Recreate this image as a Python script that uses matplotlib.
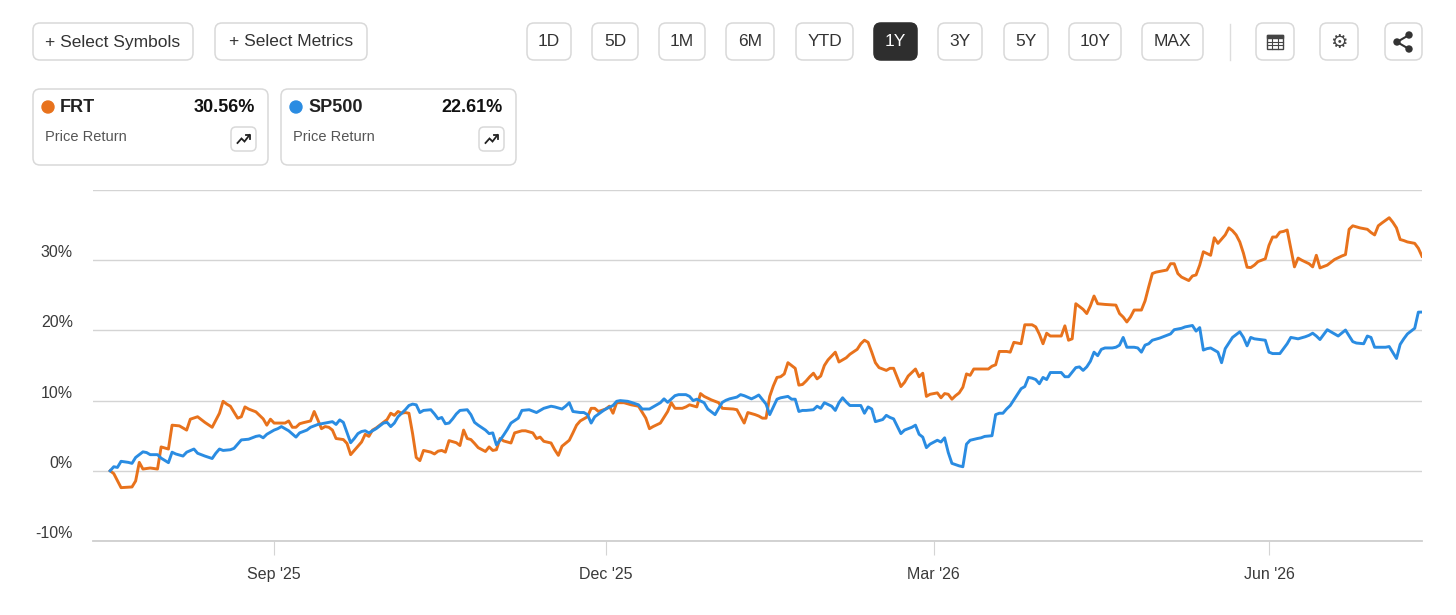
import numpy as np
import pandas as pd
import matplotlib
matplotlib.use("Agg")
import matplotlib.pyplot as plt
import matplotlib.dates as mdates
from matplotlib.patches import FancyBboxPatch, Circle, Rectangle

plt.rcParams['font.family'] = ['Liberation Sans', 'DejaVu Sans']

# price return in %, day = days after 2025-07-18
start = pd.Timestamp("2025-07-18")

frt_day = [0, 1, 3, 6, 7, 8, 9, 11, 13, 14, 16, 17, 19, 21, 22, 24, 26, 28, 30, 31,
           32, 33, 35, 36, 37, 38, 40, 42, 43, 44, 45, 48, 49, 50, 51, 52, 53, 55, 56, 57,
           58, 59, 60, 61, 62, 64, 65, 66, 67, 68, 69, 70, 71, 72, 73, 74, 75, 76, 77, 78,
           79, 80, 81, 82, 83, 84, 85, 86, 88, 89, 90, 91, 92, 93, 95, 96, 97, 98, 99, 100,
           101, 103, 104, 105, 106, 107, 108, 110, 111, 113, 114, 116, 117, 118, 119, 121, 122, 123, 124, 126,
           127, 128, 129, 131, 132, 133, 134, 136, 137, 138, 139, 141, 143, 145, 147, 148, 149, 151, 153, 154,
           155, 157, 158, 159, 161, 162, 163, 165, 167, 168, 171, 172, 174, 175, 177, 178, 179, 180, 181, 182,
           183, 184, 185, 186, 188, 189, 190, 191, 192, 193, 194, 195, 196, 197, 199, 200, 202, 203, 205, 206,
           207, 208, 209, 210, 211, 213, 214, 215, 217, 218, 219, 221, 222, 223, 224, 225, 227, 228, 229, 230,
           231, 232, 233, 234, 235, 236, 237, 238, 241, 242, 243, 244, 246, 247, 248, 250, 251, 253, 254, 255,
           256, 257, 258, 261, 262, 263, 264, 265, 267, 268, 269, 270, 271, 273, 276, 277, 278, 279, 280, 281,
           283, 284, 285, 286, 287, 288, 290, 291, 292, 293, 294, 296, 297, 298, 299, 300, 301, 302, 303, 304,
           306, 307, 308, 309, 310, 311, 312, 313, 314, 315, 317, 318, 319, 320, 321, 322, 323, 324, 325, 326,
           327, 329, 330, 331, 332, 334, 335, 336, 338, 339, 340, 341, 343, 345, 346, 347, 348, 349, 351, 352,
           353, 354, 355, 356, 358, 359, 360]
frt_ret = [0.0, -0.4, -2.4, -2.3, -1.45, 1.2, 0.25, 0.4, 0.25, 3.4, 3.1, 6.5, 6.4, 5.8, 7.35, 7.7, 6.9, 6.2, 8.2, 9.9,
           9.5, 9.2, 7.5, 7.7, 9.1, 8.8, 8.4, 7.4, 6.5, 7.35, 6.8, 6.8, 7.1, 6.2, 6.2, 6.7, 6.85, 7.1, 8.45, 7.25,
           6.0, 6.3, 6.2, 5.8, 4.6, 4.45, 3.9, 2.3, 2.9, 3.5, 4.1, 5.2, 4.9, 5.8, 6.1, 6.5, 6.9, 7.3, 8.2, 7.9,
           8.45, 8.2, 8.3, 8.2, 5.3, 1.9, 1.45, 2.9, 2.66, 2.4, 2.8, 2.9, 2.66, 4.3, 4.0, 3.6, 5.8, 4.6, 4.45, 3.9,
           3.3, 2.75, 3.4, 2.9, 3.0, 4.6, 4.25, 3.96, 5.4, 5.7, 5.7, 5.4, 4.6, 4.8, 4.2, 3.96, 3.0, 2.2, 3.5, 4.35,
           5.4, 6.5, 7.1, 7.7, 8.9, 8.9, 8.45, 8.8, 9.2, 8.2, 9.7, 9.7, 9.4, 9.2, 7.5, 6.0, 6.3, 6.8, 8.45, 9.7,
           8.9, 8.9, 9.1, 9.4, 9.1, 11.0, 10.6, 10.1, 9.7, 8.9, 8.8, 8.7, 6.8, 8.3, 8.0, 7.8, 7.5, 7.5, 10.6, 12.1,
           13.3, 13.4, 13.8, 15.4, 14.6, 12.2, 12.3, 12.8, 13.4, 13.9, 13.1, 13.5, 15.0, 15.8, 16.9, 15.5, 16.1, 16.6, 17.3, 18.1,
           18.6, 18.3, 16.9, 15.4, 14.7, 14.3, 14.6, 14.6, 12.0, 12.6, 13.5, 14.5, 13.4, 13.9, 10.6, 10.9, 11.1, 10.4, 11.0, 10.9,
           10.2, 10.7, 11.1, 11.9, 13.8, 13.6, 14.5, 14.5, 14.5, 14.9, 15.1, 17.0, 17.0, 16.9, 18.3, 18.1, 20.8, 20.8, 20.5, 19.45,
           18.1, 19.6, 19.2, 19.2, 20.65, 18.6, 18.8, 23.8, 23.0, 22.4, 23.5, 24.9, 23.8, 23.7, 23.6, 22.4, 21.9, 21.2, 21.9, 22.9,
           22.9, 24.2, 26.2, 28.1, 28.3, 28.4, 28.6, 29.5, 29.5, 28.1, 27.6, 27.1, 27.75, 27.9, 29.3, 31.2, 30.95, 30.7, 33.2, 32.4,
           33.6, 34.6, 34.2, 33.6, 32.6, 31.0, 29.0, 28.95, 29.3, 29.8, 30.2, 32.1, 33.3, 33.3, 34.0, 34.1, 34.3, 31.7, 29.05, 30.3,
           30.0, 29.5, 29.05, 30.7, 28.9, 29.3, 29.7, 30.1, 30.6, 30.8, 34.4, 34.9, 34.6, 34.4, 33.95, 33.6, 34.9, 35.3, 36.05, 35.4,
           34.6, 32.95, 32.8, 32.6, 32.4, 31.7, 30.56]

sp_day = [0, 1, 2, 3, 5, 6, 7, 9, 10, 11, 13, 14, 16, 17, 18, 20, 21, 23, 24, 26,
          28, 29, 30, 31, 33, 34, 35, 36, 38, 40, 41, 42, 43, 45, 46, 47, 49, 51, 52, 53,
          54, 55, 57, 58, 60, 61, 62, 63, 64, 66, 67, 68, 69, 70, 71, 72, 73, 74, 75, 76,
          77, 78, 79, 81, 82, 83, 84, 85, 86, 88, 89, 90, 91, 92, 93, 94, 95, 96, 98, 99,
          100, 101, 103, 104, 105, 106, 107, 108, 109, 110, 112, 113, 115, 117, 118, 119, 121, 122, 124, 125,
          126, 127, 129, 130, 131, 132, 133, 135, 136, 138, 139, 140, 142, 143, 145, 146, 148, 149, 151, 152,
          153, 155, 156, 158, 159, 160, 161, 163, 164, 166, 167, 168, 169, 170, 172, 173, 174, 176, 177, 178,
          180, 181, 183, 184, 186, 187, 188, 189, 190, 191, 193, 194, 195, 196, 198, 199, 200, 201, 202, 203,
          206, 207, 208, 209, 210, 212, 213, 214, 215, 217, 218, 220, 221, 222, 223, 224, 225, 227, 228, 229,
          230, 231, 233, 234, 235, 236, 238, 239, 240, 242, 243, 244, 245, 246, 247, 249, 250, 251, 252, 253,
          254, 255, 256, 257, 258, 261, 262, 263, 265, 266, 267, 268, 269, 270, 271, 272, 273, 275, 276, 277,
          278, 279, 281, 282, 283, 284, 285, 286, 288, 290, 291, 292, 294, 295, 297, 298, 299, 300, 301, 302,
          304, 305, 306, 307, 308, 310, 311, 312, 313, 314, 317, 318, 319, 321, 322, 323, 324, 326, 328, 329,
          330, 331, 332, 334, 335, 337, 339, 341, 342, 344, 345, 346, 347, 350, 351, 353, 354, 355, 356, 358,
          359, 360]
sp_ret = [0.0, 0.58, 0.48, 1.35, 1.2, 1.06, 1.9, 2.7, 2.6, 2.3, 2.3, 1.8, 1.16, 2.65, 2.4, 2.1, 2.65, 3.1, 2.5, 2.1,
          1.75, 2.5, 3.1, 2.9, 3.0, 3.2, 3.8, 4.4, 4.5, 4.9, 5.0, 4.7, 5.2, 5.8, 6.0, 6.3, 5.7, 4.8, 5.4, 5.6,
          5.8, 6.2, 6.6, 6.7, 6.9, 7.0, 6.6, 7.25, 6.9, 4.0, 4.6, 5.3, 5.6, 5.7, 5.4, 5.7, 6.0, 6.4, 6.8, 6.9,
          6.3, 6.8, 7.7, 8.7, 9.3, 9.5, 9.4, 8.3, 8.6, 8.7, 8.1, 7.4, 7.6, 6.7, 6.8, 7.4, 8.1, 8.6, 8.7, 8.0,
          6.9, 6.5, 5.8, 5.3, 5.4, 3.7, 4.35, 5.1, 5.9, 6.8, 7.5, 8.6, 8.7, 8.3, 8.6, 8.9, 9.2, 9.1, 8.8, 9.2,
          9.7, 8.45, 8.3, 8.3, 8.0, 6.8, 7.7, 8.45, 8.8, 9.3, 9.9, 10.0, 9.9, 9.75, 9.4, 8.8, 8.8, 9.1, 9.7, 10.25,
          9.75, 10.7, 10.85, 10.85, 10.6, 10.0, 10.2, 9.7, 8.8, 8.0, 8.9, 9.75, 10.05, 10.25, 10.5, 10.85, 10.7, 10.25, 10.5, 10.8,
          9.5, 8.0, 10.2, 10.4, 10.6, 10.2, 10.2, 8.45, 8.6, 8.6, 8.7, 9.2, 8.9, 9.7, 9.2, 8.6, 9.7, 10.4, 9.8, 9.3,
          9.3, 8.2, 9.1, 8.8, 7.0, 7.3, 7.9, 7.6, 7.4, 5.3, 5.8, 6.2, 6.5, 5.2, 4.8, 3.3, 3.8, 4.35, 4.1, 4.7,
          2.6, 1.06, 0.7, 0.58, 3.8, 4.35, 4.6, 4.7, 4.9, 5.0, 8.0, 8.2, 8.2, 8.8, 9.3, 10.9, 11.7, 12.0, 13.3, 13.2,
          13.0, 12.4, 13.3, 13.0, 14.0, 14.0, 13.4, 13.4, 14.7, 14.8, 14.3, 14.8, 15.6, 16.9, 16.4, 17.3, 17.5, 17.5, 17.6, 17.9,
          19.0, 17.6, 17.6, 17.5, 16.9, 17.9, 18.1, 18.6, 18.9, 19.3, 19.5, 20.1, 20.3, 20.5, 20.7, 19.9, 20.4, 17.2, 17.4, 17.5,
          16.9, 15.4, 17.4, 18.2, 19.0, 19.8, 19.0, 17.8, 19.0, 18.8, 18.6, 16.9, 16.7, 16.7, 17.4, 18.1, 19.0, 18.8, 19.1, 19.3,
          19.6, 19.2, 18.7, 20.1, 19.8, 19.2, 20.05, 18.4, 18.2, 18.1, 19.2, 19.0, 17.6, 17.6, 17.7, 16.0, 18.0, 18.8, 19.5, 20.3,
          22.6, 22.61]

names = ["FRT", "SP500"]
final_ret = [30.56, 22.61]
colors = ["#E8721C", "#2A8CE2"]

y_ticks = [-10, 0, 10, 20, 30, 40]
y_labels = ["-10%", "0%", "10%", "20%", "30%", ""]
month_ticks = ["2025-09-01", "2025-12-01", "2026-03-01", "2026-06-01"]
month_labels = ["Sep '25", "Dec '25", "Mar '26", "Jun '26"]
ranges = ["1D", "5D", "1M", "6M", "YTD", "1Y", "3Y", "5Y", "10Y", "MAX"]
active_range = "1Y"

frt_dates = start + pd.to_timedelta(frt_day, unit="D")
sp_dates = start + pd.to_timedelta(sp_day, unit="D")

W, H = 1456, 615
fig = plt.figure(figsize=(W / 100, H / 100), dpi=100)
fig.patch.set_facecolor("white")

# ---- chart ----
ax = fig.add_axes([93 / W, 1 - 541 / H, (1422 - 93) / W, (541 - 190) / H])
ax.plot(frt_dates, frt_ret, color=colors[0], lw=2.1, solid_joinstyle="round", zorder=3)
ax.plot(sp_dates, sp_ret, color=colors[1], lw=2.1, solid_joinstyle="round", zorder=4)

ax.set_ylim(-10, 40)
ax.set_xlim(start - pd.Timedelta(days=4.7), start + pd.Timedelta(days=360))
ax.set_yticks(y_ticks)
ax.set_yticklabels(y_labels)
for lbl in ax.get_yticklabels():
    lbl.set_va("bottom")
ax.set_xticks(pd.to_datetime(month_ticks))
ax.set_xticklabels(month_labels)

ax.grid(axis="y", color="#d4d4d4", lw=1)
ax.set_axisbelow(True)
for s in ["top", "right", "left"]:
    ax.spines[s].set_visible(False)
ax.spines["bottom"].set_color("#cfcfcf")
ax.spines["bottom"].set_linewidth(1.3)
ax.tick_params(axis="y", length=0, pad=14.5, labelsize=11.5, labelcolor="#3a3a3a")
ax.tick_params(axis="x", length=10, width=0.8, color="#d4d4d4", pad=8.5,
               labelsize=11.5, labelcolor="#3a3a3a")

# ---- header controls ----
ui = fig.add_axes([0, 0, 1, 1], zorder=-1)
ui.set_xlim(0, W)
ui.set_ylim(H, 0)
ui.axis("off")


def box(x0, y0, x1, y1, fc="white", ec="#d9d9d9", r=7):
    ui.add_patch(FancyBboxPatch((x0, y0), x1 - x0, y1 - y0,
                                boxstyle=f"round,pad=0,rounding_size={r}",
                                fc=fc, ec=ec, lw=1.1))


box(33, 23, 193, 60)
ui.text(113, 42, "+ Select Symbols", ha="center", va="center", fontsize=12.5, color="#333333")
box(215, 23, 367, 60)
ui.text(291, 42, "+ Select Metrics", ha="center", va="center", fontsize=12.5, color="#333333")

range_pos = [(527, 571), (592, 638), (659, 705), (726, 774), (796, 853),
             (874, 917), (938, 982), (1004, 1048), (1069, 1121), (1142, 1203)]
for r, (x0, x1) in zip(ranges, range_pos):
    if r == active_range:
        box(x0, 23, x1, 60, fc="#2e2e2e", ec="#2e2e2e")
        tc = "white"
    else:
        box(x0, 23, x1, 60)
        tc = "#333333"
    ui.text((x0 + x1) / 2, 42, r, ha="center", va="center", fontsize=12.5, color=tc)

ui.plot([1230, 1230], [24, 60], color="#dddddd", lw=1)

# table icon
box(1256, 23, 1294, 60)
ui.add_patch(Rectangle((1267, 35), 16, 14, fc="none", ec="#444444", lw=1))
ui.add_patch(Rectangle((1267, 35), 16, 3, fc="#444444", ec="#444444", lw=1))
for gx in [1272.3, 1277.7]:
    ui.plot([gx, gx], [38, 49], color="#444444", lw=0.8)
for gy in [41.7, 45.3]:
    ui.plot([1267, 1283], [gy, gy], color="#444444", lw=0.8)

# gear icon
box(1320, 23, 1358, 60)
ui.text(1339, 42, "\u2699", ha="center", va="center", fontsize=14, color="#444444",
        family="DejaVu Sans")

# share icon
box(1385, 23, 1422, 60)
ui.plot([1409, 1397, 1409], [35, 42, 49], color="#333333", lw=1.5)
for cx, cy in [(1409, 35), (1397, 42), (1409, 49)]:
    ui.add_patch(Circle((cx, cy), 3, color="#333333"))

# ---- legend cards ----
card_x = [33, 281]
for name, val, col, x0 in zip(names, final_ret, colors, card_x):
    box(x0, 89, x0 + 235, 165)
    ui.add_patch(Circle((x0 + 15, 107), 6, color=col))
    ui.text(x0 + 27, 107, name, ha="left", va="center", fontsize=13, fontweight="bold", color="#222222")
    ui.text(x0 + 222, 107, f"{val:.2f}%", ha="right", va="center", fontsize=13,
            fontweight="bold", color="#111111")
    ui.text(x0 + 12, 137, "Price Return", ha="left", va="center", fontsize=10.5, color="#555555")
    bx = x0 + 198
    box(bx, 127, bx + 25, 151, r=5)
    cx, cy = bx + 12.5, 139
    ui.plot([cx - 6, cx - 2, cx + 1, cx + 6], [cy + 4, cy - 0.5, cy + 2.5, cy - 4],
            color="#222222", lw=1.3, solid_joinstyle="miter")
    ui.plot([cx + 2, cx + 6, cx + 6], [cy - 4, cy - 4, cy], color="#222222", lw=1.3)

fig.savefig("out.png", dpi=100, facecolor="white")
